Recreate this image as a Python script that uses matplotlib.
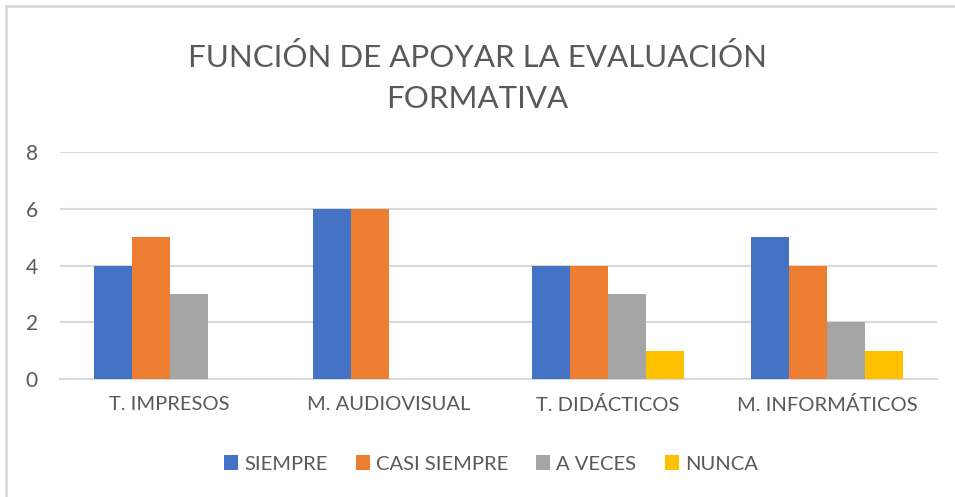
import matplotlib.pyplot as plt
import numpy as np
from matplotlib.patches import Rectangle

categorias = ['T. IMPRESOS', 'M. AUDIOVISUAL', 'T. DIDÁCTICOS', 'M. INFORMÁTICOS']
series = ['SIEMPRE', 'CASI SIEMPRE', 'A VECES', 'NUNCA']
siempre = [4, 6, 4, 5]
casi_siempre = [5, 6, 4, 4]
a_veces = [3, 0, 3, 2]
nunca = [0, 0, 1, 1]
colores = ['#4472C4', '#ED7D31', '#A5A5A5', '#FFC000']

plt.rcParams['font.family'] = ['Lato', 'DejaVu Sans']
texto = '#595959'

fig = plt.figure(figsize=(9.55, 4.97), dpi=100)
# marco del gráfico (solo bordes superior e izquierdo visibles)
fig.patches.append(Rectangle((6 / 955, -0.1), 1.2, 1 - 6 / 497 + 0.1, transform=fig.transFigure,
                             fill=False, edgecolor='#d9d9d9', lw=2))

ax = fig.add_axes([60 / 955, 1 - 379 / 497, (937 - 60) / 955, (379 - 152) / 497])

x = np.arange(len(categorias))
w = 0.1735
valores = [siempre, casi_siempre, a_veces, nunca]
for i, (nombre, vals, c) in enumerate(zip(series, valores, colores)):
    ax.bar(x + (i - 1.5) * w, vals, w, color=c, label=nombre, zorder=3)

ax.set_xlim(-0.5, len(categorias) - 0.5)
ax.set_ylim(0, 8)
ax.set_yticks([0, 2, 4, 6, 8])
ax.grid(axis='y', color='#d9d9d9', lw=1.5, zorder=0)
for s in ['top', 'right', 'left']:
    ax.spines[s].set_visible(False)
ax.spines['bottom'].set_color('#d9d9d9')
ax.spines['bottom'].set_linewidth(1.5)
ax.set_xticks(x)
ax.set_xticklabels(categorias)
ax.tick_params(axis='x', length=0, colors=texto, labelsize=14.5, pad=12)
ax.tick_params(axis='y', length=0, colors=texto, labelsize=15, pad=16)

fig.text(0.5, 1 - 78 / 497, 'FUNCIÓN DE APOYAR LA EVALUACIÓN\nFORMATIVA', ha='center', va='center',
         fontsize=22.5, color=texto, linespacing=1.55)

leg = fig.legend(loc='center', bbox_to_anchor=(0.514, 1 - 464 / 497), ncol=4, frameon=False,
                 fontsize=14.5, handlelength=0.7, handleheight=0.7, handletextpad=0.3,
                 columnspacing=1.4)
for t in leg.get_texts():
    t.set_color(texto)

fig.savefig('out.png', dpi=100, facecolor='white')
